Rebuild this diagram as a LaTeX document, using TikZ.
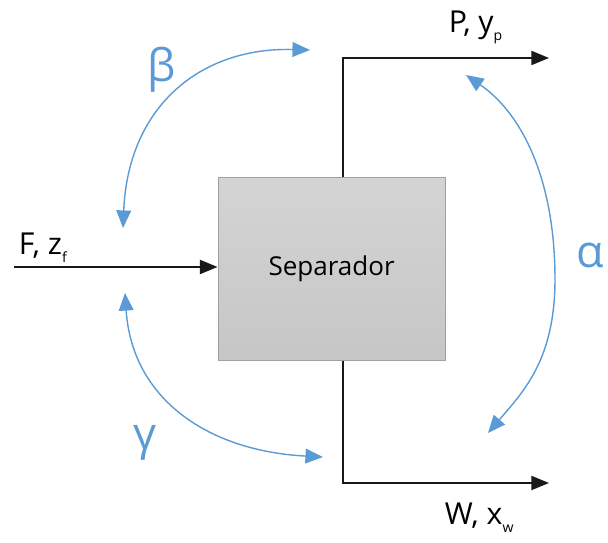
\documentclass[tikz,border=0pt]{standalone}
\usepackage{fontspec}
\setmainfont{Open Sans}
\usetikzlibrary{arrows.meta,calc}
\definecolor{AzulArco}{RGB}{91,155,213}
\definecolor{GrisArriba}{RGB}{212,212,212}
\definecolor{GrisAbajo}{RGB}{198,198,198}
\definecolor{BordeCaja}{RGB}{160,160,160}
\newcommand{\subi}[1]{\raisebox{-0.45ex}{\fontsize{10}{12}\selectfont #1}}

\begin{document}
\begin{tikzpicture}[>={Triangle[length=12.5pt,width=10pt]},
  flujo/.style={->,line width=1.2pt,black!90},
  arco/.style={{Triangle[length=12.5pt,width=10.5pt]}-{Triangle[length=12.5pt,width=10.5pt]},line width=1pt,AzulArco},
  etiq/.style={font=\fontsize{21.5}{26}\selectfont},
  griega/.style={font=\fontsize{32}{38}\selectfont,text=AzulArco}]
  \useasboundingbox (0,0) rectangle (15.2,13.575);
  \node[draw=BordeCaja,top color=GrisArriba,bottom color=GrisAbajo,line width=0.8pt,
    minimum width=5.675cm,minimum height=4.575cm,font=\fontsize{18.5}{22}\selectfont] (sep) at (8.29,6.86) {Separador};
  % corrientes
  \coordinate (fin) at (0.35,6.9);
  \coordinate (ptop) at (8.575,12.125);
  \coordinate (pend) at (13.725,12.125);
  \coordinate (wbot) at (8.575,1.5);
  \coordinate (wend) at (13.725,1.5);
  \draw[flujo] (fin) -- (fin -| sep.west);
  \draw[flujo] (sep.north -| ptop) -- (ptop) -- (pend);
  \draw[flujo] (sep.south -| wbot) -- (wbot) -- (wend);
  \node[etiq,anchor=base west] (flab) at (0.35,7.2) {F, z\subi{f}};
  \node[etiq,anchor=base west] (plab) at (11.1,12.75) {P, y\subi{p}};
  \node[etiq,anchor=base west] (wlab) at (11.0,0.45) {W, x\subi{w}};
  % arcos
  \coordinate (b1) at (3.075,7.875);
  \coordinate (b2) at (7.75,12.325);
  \coordinate (g1) at (3.125,6.25);
  \coordinate (g2) at (8.075,2.15);
  \coordinate (a1) at (11.65,11.7);
  \coordinate (amid) at (13.875,6.6);
  \coordinate (a2) at (12.2,2.75);
  \draw[arco] (b1) .. controls (3.2,10.9) and (5.0,12.4) .. (b2);
  \draw[arco] (g1) .. controls (3.3,3.6) and (5.2,2.3) .. (g2);
  \draw[arco] (a1) .. controls (13.1,10.7) and (13.875,9.0) .. (amid)
    .. controls (13.875,4.6) and (13.1,3.8) .. (a2);
  \node[griega] (beta) at (4.05,11.825) {β};
  \node[griega] (alfa) at (14.75,7.2) {α};
  \node[griega] (gama) at (3.625,2.5) {γ};
\end{tikzpicture}
\end{document}
